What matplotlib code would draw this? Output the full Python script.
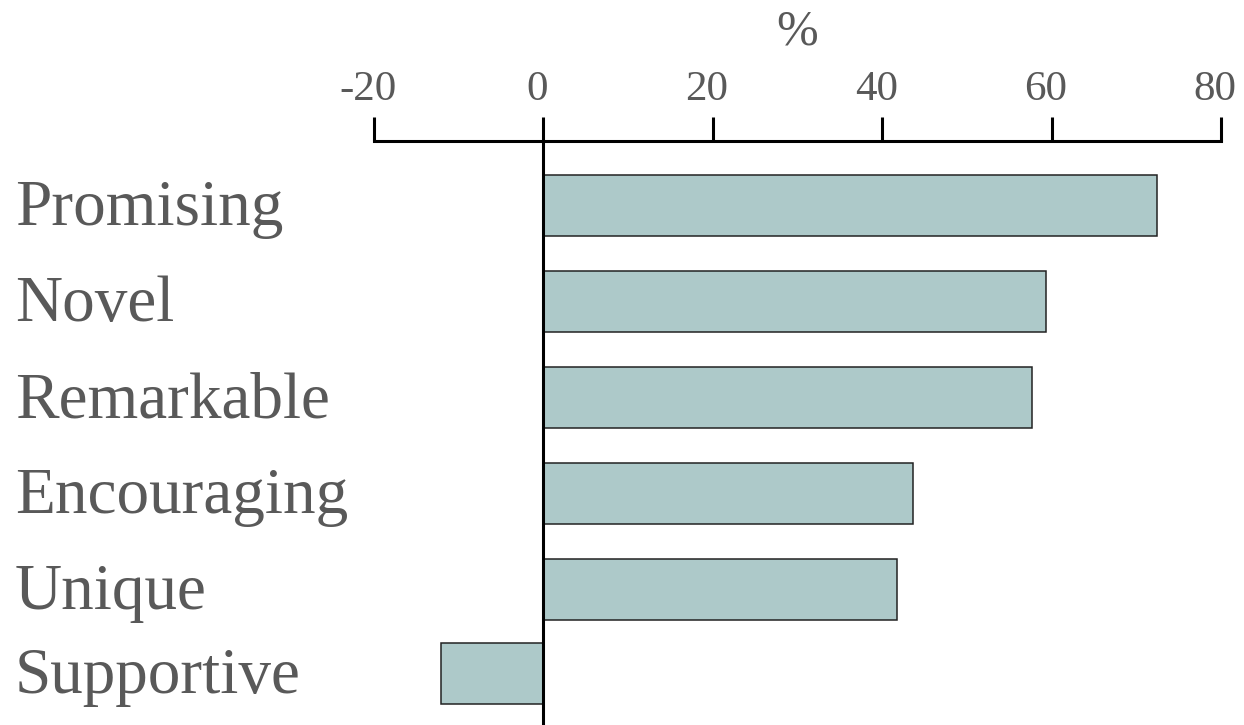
import matplotlib
matplotlib.use("Agg")
import matplotlib.pyplot as plt
import matplotlib.transforms as mtransforms
import numpy as np

categories = ["Promising", "Novel", "Remarkable", "Encouraging", "Unique", "Supportive"]
values = [72.5, 59.3, 57.7, 43.6, 41.8, -12.1]
xticks = [-20, 0, 20, 40, 60, 80]
xticklabels = ["-20", "0", "20", "40", "60", "80"]

plt.rcParams['font.family'] = ['Liberation Serif', 'DejaVu Serif']
txt_color = "#595959"

fig = plt.figure(figsize=(12.44, 7.25), dpi=100)
ax = fig.add_axes([374/1244, 0, (1221-374)/1244, 1 - 141/725])

ypos = np.array([0, 1, 2, 3, 4, 4.875])
ax.barh(ypos, values, height=0.635, color="#adc9c9", edgecolor="#222222", linewidth=1.1, zorder=2)
ax.axvline(0, color="black", linewidth=2.2, zorder=3)

ax.set_xlim(-20, 80)
ax.set_ylim(5.41, -0.672)

for s in ["bottom", "left", "right"]:
    ax.spines[s].set_visible(False)
ax.spines["top"].set_linewidth(2.2)
ax.xaxis.tick_top()
ax.xaxis.set_label_position("top")
ax.set_xticks(xticks)
ax.set_xticklabels(xticklabels)
ax.tick_params(axis="x", direction="out", length=17, width=2.2, pad=6,
               labelsize=31, labelcolor=txt_color, colors="black")
ax.tick_params(axis="x", labelcolor=txt_color)
offset = mtransforms.ScaledTranslation(-6/100, 0, fig.dpi_scale_trans)
for lab in ax.get_xticklabels():
    lab.set_transform(lab.get_transform() + offset)
ax.set_yticks([])
ax.set_xlabel("%", fontsize=36, color=txt_color, labelpad=19)

trans = mtransforms.blended_transform_factory(fig.transFigure, ax.transData)
trans = trans + mtransforms.ScaledTranslation(0, -4/100, fig.dpi_scale_trans)
for y, c in zip(ypos, categories):
    ax.text(15/1244, y, c, transform=trans, ha="left", va="center",
            fontsize=47, color=txt_color, clip_on=False)

fig.savefig("out.png", dpi=100)
